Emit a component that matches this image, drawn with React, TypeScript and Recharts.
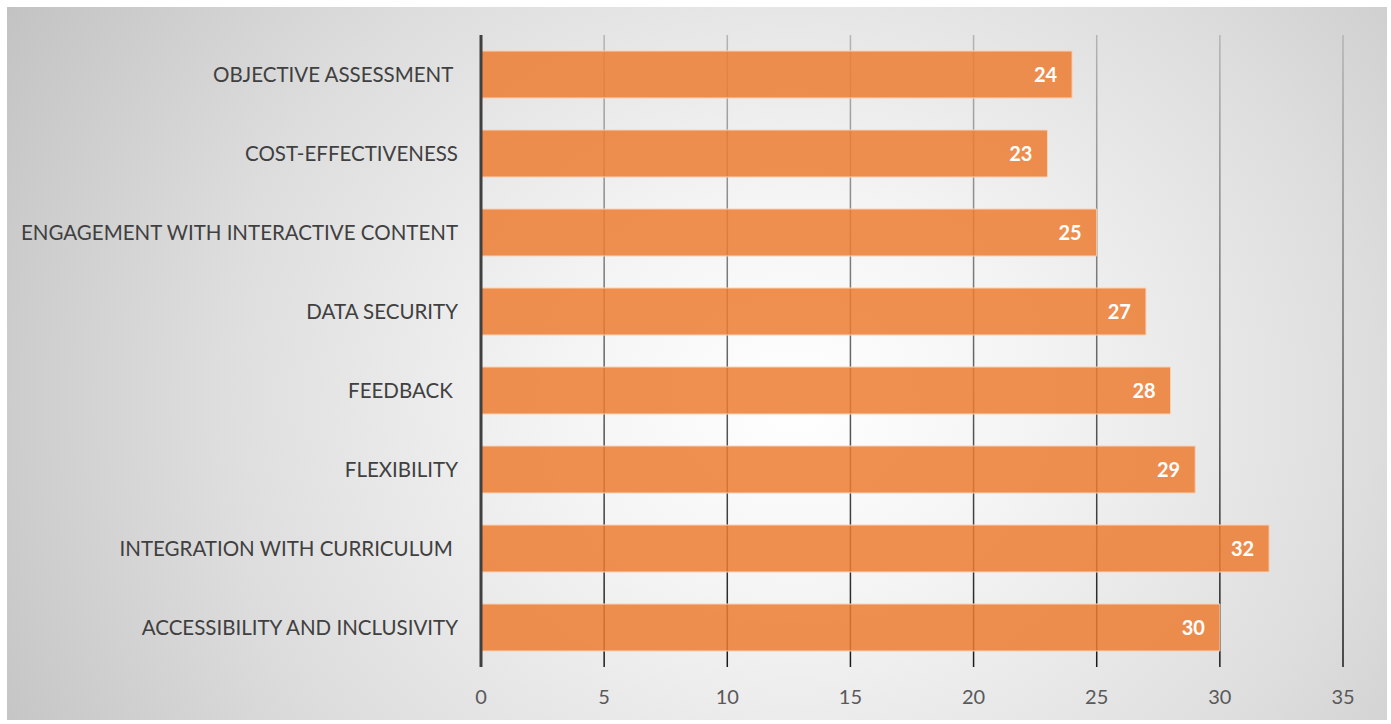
import { BarChart, Bar, XAxis, YAxis, CartesianGrid, LabelList } from "recharts";

const categories = [
  "OBJECTIVE ASSESSMENT ",
  "COST-EFFECTIVENESS",
  "ENGAGEMENT WITH INTERACTIVE CONTENT",
  "DATA SECURITY",
  "FEEDBACK ",
  "FLEXIBILITY",
  "INTEGRATION WITH CURRICULUM ",
  "ACCESSIBILITY AND INCLUSIVITY",
];
const values = [24, 23, 25, 27, 28, 29, 32, 30];
const xTicks = [0, 5, 10, 15, 20, 25, 30, 35];

const data = categories.map((name, i) => ({ name, value: values[i] }));

const FONT = "Lato, 'Open Sans', sans-serif";

function CategoryTick(props: any) {
  const { x, y, payload } = props;
  return (
    <text
      x={x}
      y={y}
      dy="0.35em"
      textAnchor="end"
      fontSize={20.5}
      fill="#404040"
      fontFamily={FONT}
      style={{ whiteSpace: "pre" }}
    >
      {payload.value}
    </text>
  );
}

export default function App() {
  return (
    <div
      style={{
        position: "fixed",
        left: 0,
        top: 0,
        width: 1391,
        height: 724,
        background: "#ffffff",
      }}
    >
      <div
        style={{
          position: "absolute",
          left: 7,
          top: 7,
          width: 1380,
          height: 713,
          background:
            "radial-gradient(ellipse 68% 115% at 57% 55%, #ffffff 0%, #f4f4f4 25%, #dddddd 62%, #c0c0c0 100%)",
        }}
      />
      <div style={{ position: "absolute", left: 0, top: 0 }}>
        <BarChart
          width={1391}
          height={724}
          data={data}
          layout="vertical"
          margin={{ top: 35, right: 48, bottom: 0, left: 0 }}
        >
          <defs>
            <linearGradient id="gridGrad" gradientUnits="userSpaceOnUse" x1="0" y1="35" x2="0" y2="667">
              <stop offset="0%" stopColor="#b4b4b4" />
              <stop offset="100%" stopColor="#1a1a1a" />
            </linearGradient>
          </defs>
          <CartesianGrid horizontal={false} stroke="url(#gridGrad)" strokeWidth={1.5} />
          <XAxis
            type="number"
            domain={[0, 35]}
            ticks={xTicks}
            axisLine={false}
            tickLine={false}
            tickSize={0}
            tickMargin={23}
            height={57}
            tick={{ fontSize: 20, fill: "#595959", fontFamily: FONT }}
          />
          <YAxis
            type="category"
            dataKey="name"
            width={481}
            tickLine={false}
            tickSize={0}
            tickMargin={23}
            axisLine={{ stroke: "#404040", strokeWidth: 3 }}
            tick={<CategoryTick />}
            interval={0}
          />
          <Bar
            dataKey="value"
            fill="#ED7D31"
            fillOpacity={0.85}
            stroke="#f8d2b6"
            strokeWidth={1}
            barSize={47}
            isAnimationActive={false}
          >
            <LabelList
              dataKey="value"
              position="insideRight"
              offset={15}
              fill="#ffffff"
              fontSize={20}
              fontWeight="bold"
              fontFamily={FONT}
            />
          </Bar>
        </BarChart>
      </div>
    </div>
  );
}
